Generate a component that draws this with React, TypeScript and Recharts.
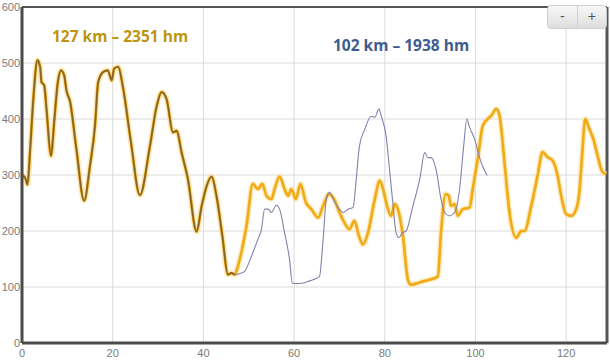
import React from "react";
import { LineChart, Line, XAxis, YAxis, CartesianGrid, ReferenceLine } from "recharts";

// 127 km route (km along route, altitude in hm)
const KM_127 = [
  0, 0.7, 1.2, 1.8, 2.5, 3.4, 4, 4.3, 4.9, 5.4, 6.4, 7.1, 7.9, 8.6, 9.3, 9.8, 10.6, 12, 13.7, 15,
  16.1, 16.8, 17.9, 18.9, 19.8, 20.3, 21.2, 22.3, 24, 26, 28.2, 29.7, 30.8, 31.9, 33.3, 34.1, 35.2,
  36.6, 38.5, 39.6, 40.7, 41.8, 42.9, 44.2, 45.4, 46.2, 46.9, 47.6, 49.5, 50.9, 52, 53, 53.9, 55,
  55.7, 56.8, 57.9, 58.7, 59.4, 60.4, 61.4, 62.6, 63.8, 65.3, 66.4, 67.7, 69, 70, 71.1, 72.2, 73.3,
  74.3, 75.2, 76.3, 77.8, 78.9, 79.6, 80.7, 81.4, 82.2, 83.1, 84, 85.1, 85.8, 87.3, 88.4, 89.9, 91.7,
  92.4, 93.4, 94.1, 94.6, 95.4, 96.1, 97.2, 98.7, 99.4, 100.5, 101.6, 102.7, 103.5, 104.6, 105.3,
  106.4, 107.5, 109, 110.1, 110.8, 112.3, 113.7, 114.8, 115.9, 117, 118.1, 118.9, 120, 121.1, 122.2,
  122.9, 123.5, 124.2, 125.1, 126, 127, 127.9, 128.8,
];
const HM_127 = [
  300, 295, 283, 346, 436, 505, 493, 466, 460, 418, 334, 395, 466, 487, 478, 451, 431, 346, 254, 317,
  388, 466, 484, 487, 469, 490, 493, 455, 360, 264, 351, 423, 448, 435, 376, 379, 340,
  292, 199, 244, 280, 297, 262, 190, 122, 125, 122, 137, 209, 284, 275, 284, 263, 257,
  275, 297, 275, 263, 275, 257, 284, 251, 239, 224, 245, 266, 254, 233, 215, 203, 218,
  191, 176, 197, 257, 290, 275, 239, 227, 248, 233, 191, 113, 104, 107, 110, 113, 119,
  197, 266, 263, 245, 248, 227, 239, 242, 275, 329, 388, 400, 406, 418, 406,
  322, 233, 188, 200, 200, 245, 299, 341, 332, 326, 299, 263, 230, 227, 239,
  269, 334, 400, 382, 364, 332, 307, 301,
];

// 102 km route: shares the 127 km profile up to SHARED_UNTIL, then these points
const SHARED_UNTIL = 46.9;
const KM_102 = [
  46.9, 48.4, 49.1, 50.6, 52, 52.8, 53.5, 54.3, 55, 56.1, 56.8, 57.9, 59, 59.6, 60.5, 62, 63.1, 64.2,
  65.6, 66.4, 67.1, 67.8, 69, 70, 70.8, 71.9, 73, 73.7, 74.4, 75.6, 77, 77.8, 78.7, 79.2, 80.3, 81.1,
  81.7, 82.5, 83.1, 83.9, 84.7, 86.2, 87.7, 88.8, 89.5, 90.2, 91.3, 92.4, 93.2, 94.3, 95.4, 96.5,
  97.4, 98.1, 98.7, 99.8, 100.9, 101.8, 102.6,
];
const HM_102 = [
  122, 125, 128, 155, 185, 203, 239, 239, 233, 246, 239, 197, 149, 107, 106, 107, 110, 113,
  119, 185, 257, 269, 251, 239, 233, 239, 242, 292, 351, 382, 405, 403, 418, 406, 369, 305,
  256, 197, 188, 197, 200, 245, 292, 340, 331, 331, 310, 257, 233, 227, 233, 275,
  352, 400, 385, 364, 331, 311, 299,
];

const X_TICKS = [0, 20, 40, 60, 80, 100, 120];
const Y_TICKS = [0, 100, 200, 300, 400, 500, 600];
const LABEL_127 = "127 km – 2351 hm";
const LABEL_102 = "102 km – 1938 hm";

const route127 = KM_127.map((km, i) => ({ km, hm: HM_127[i] }));
const shared = route127.filter((p) => p.km <= SHARED_UNTIL);
const route102 = KM_102.map((km, i) => ({ km, hm: HM_102[i] }));

const tickStyle = { fontSize: 11, fill: "#7a7a7a", stroke: "none", fontFamily: "Arial, 'Liberation Sans', sans-serif" };

export default function App() {
  return (
    <div style={{ position: "relative", width: 610, height: 364, background: "#fff", overflow: "hidden" }}>
      <style>{`body{margin:0}`}</style>
      <LineChart width={610} height={364} margin={{ top: 7, right: 3, left: 0, bottom: 0 }}>
        <CartesianGrid stroke="#dadada" strokeWidth={1} />
        <XAxis
          dataKey="km"
          type="number"
          domain={[0, 129]}
          ticks={X_TICKS}
          height={21}
          tickLine={false}
          tickSize={0}
          tickMargin={6}
          axisLine={{ stroke: "#4a4a4a", strokeWidth: 3 }}
          tick={tickStyle}
          allowDataOverflow
        />
        <YAxis
          dataKey="hm"
          type="number"
          domain={[0, 600]}
          ticks={Y_TICKS}
          width={22}
          tickLine={false}
          tickSize={0}
          tickMargin={2}
          axisLine={{ stroke: "#4a4a4a", strokeWidth: 3 }}
          tick={tickStyle}
        />
        <ReferenceLine y={600} stroke="#555" strokeWidth={2} />
        <ReferenceLine x={129} stroke="#555" strokeWidth={3} />
        {/* soft glow under the orange route */}
        <Line
          data={route127}
          dataKey="hm"
          type="monotone"
          stroke="#fbe3a4"
          strokeWidth={5.5}
          strokeOpacity={0.7}
          dot={false}
          isAnimationActive={false}
        />
        <Line
          data={route127}
          dataKey="hm"
          type="monotone"
          stroke="#f1ab17"
          strokeWidth={2.7}
          dot={false}
          isAnimationActive={false}
        />
        {/* both routes on the same road: drawn darker */}
        <Line
          data={shared}
          dataKey="hm"
          type="monotone"
          stroke="#84662a"
          strokeWidth={1.8}
          dot={false}
          isAnimationActive={false}
        />
        <Line
          data={route102}
          dataKey="hm"
          type="monotone"
          stroke="#8181ad"
          strokeWidth={1.1}
          dot={false}
          isAnimationActive={false}
        />
      </LineChart>

      <div
        style={{
          position: "absolute",
          left: 52,
          top: 25,
          fontFamily: "'Open Sans', Arial, sans-serif",
          fontWeight: 700,
          fontSize: 15.5,
          color: "#bd950e",
          whiteSpace: "nowrap",
        }}
      >
        {LABEL_127}
      </div>
      <div
        style={{
          position: "absolute",
          left: 333,
          top: 34,
          fontFamily: "'Open Sans', Arial, sans-serif",
          fontWeight: 700,
          fontSize: 15.5,
          color: "#3c5d8e",
          whiteSpace: "nowrap",
        }}
      >
        {LABEL_102}
      </div>

      {/* zoom buttons */}
      <div
        style={{
          position: "absolute",
          left: 547,
          top: 5,
          width: 58,
          height: 22,
          display: "flex",
          border: "1px solid #cfcfcf",
          borderRadius: 4,
          background: "linear-gradient(#f7f7f7, #dedede)",
          fontFamily: "Arial, sans-serif",
          fontSize: 14,
          color: "#555",
        }}
      >
        <div style={{ flex: 1, textAlign: "center", lineHeight: "21px", borderRight: "1px solid #cfcfcf" }}>-</div>
        <div style={{ flex: 1, textAlign: "center", lineHeight: "21px" }}>+</div>
      </div>
    </div>
  );
}
